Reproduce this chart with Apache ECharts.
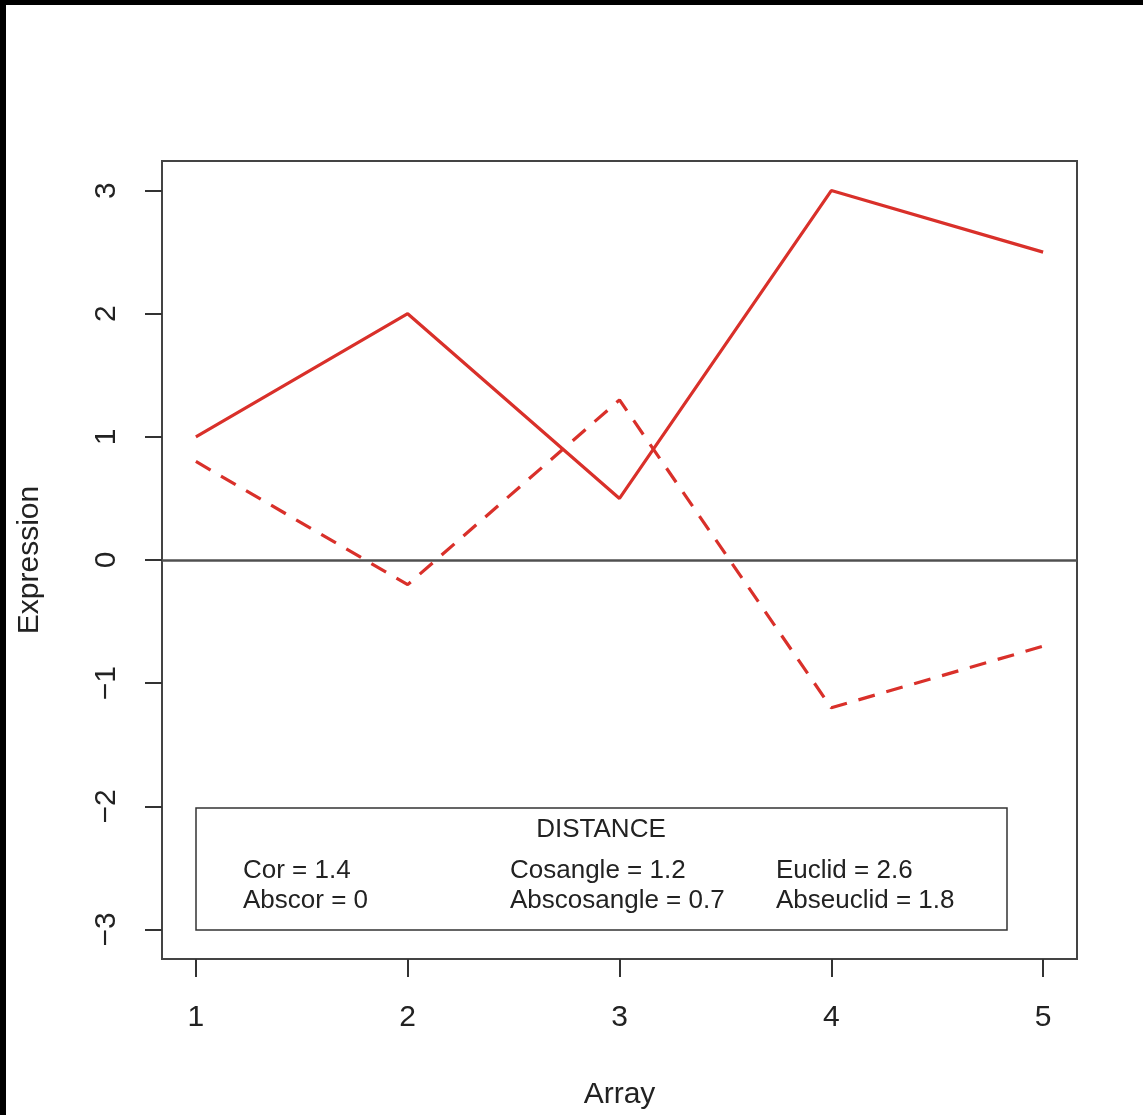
<!DOCTYPE html>
<html><head><meta charset="utf-8">
<script src="https://cdn.jsdelivr.net/npm/echarts@6/dist/echarts.min.js"></script>
<style>html,body{margin:0;padding:0;background:#000;}#c{position:absolute;left:6px;top:5px;width:1137px;height:1110px;background:#fff;}</style>
</head><body><div id="c"></div>
<script>
var arrays = [1, 2, 3, 4, 5];
var geneA = [1, 2, 0.5, 3, 2.5];
var geneB = [0.8, -0.2, 1.3, -1.2, -0.7];
var yTicks = [-3, -2, -1, 0, 1, 2, 3];
var legendTitle = 'DISTANCE';
var legendRow1 = ['Cor = 1.4', 'Cosangle = 1.2', 'Euclid = 2.6'];
var legendRow2 = ['Abscor = 0', 'Abscosangle = 0.7', 'Abseuclid = 1.8'];

var FONT = 'Liberation Sans, Arial, sans-serif';
var RED = '#d9302a';
var chart = echarts.init(document.getElementById('c'), null, {renderer: 'canvas'});
var ox = 6, oy = 5;
function pairs(ys) { return arrays.map(function (x, i) { return [x, ys[i]]; }); }
var legendTexts = [];
var cols = [243, 510, 776];
[legendRow1, legendRow2].forEach(function (row, r) {
  row.forEach(function (t, c) {
    legendTexts.push({type: 'text', x: cols[c] - ox, y: (r === 0 ? 871 : 901) - oy,
      style: {text: t, font: '26px ' + FONT, fill: '#222', textVerticalAlign: 'middle', textAlign: 'left'}, z: 20});
  });
});
chart.setOption({
  animation: false,
  backgroundColor: '#fff',
  grid: {left: 162 - ox, top: 161 - oy, right: 1143 - 1077, bottom: 1115 - 961, show: true,
    borderColor: '#444', borderWidth: 2, backgroundColor: 'transparent'},
  xAxis: {type: 'value', min: 0.84, max: 5.16,
    name: 'Array', nameLocation: 'middle', nameGap: 121,
    nameTextStyle: {fontFamily: FONT, fontSize: 30, color: '#222'},
    axisLine: {show: false, onZero: false},
    axisTick: {show: true, inside: false, length: 18, customValues: arrays, lineStyle: {color: '#333', width: 2}},
    axisLabel: {customValues: arrays, margin: 44, fontFamily: FONT, fontSize: 30, color: '#222'},
    splitLine: {show: false}},
  yAxis: {type: 'value', min: -3.24, max: 3.24,
    name: 'Expression', nameLocation: 'middle', nameGap: 117, nameRotate: 90,
    nameTextStyle: {fontFamily: FONT, fontSize: 30, color: '#222'},
    axisLine: {show: false, onZero: false},
    axisTick: {show: true, inside: false, length: 17, customValues: yTicks, lineStyle: {color: '#333', width: 2}},
    axisLabel: {customValues: yTicks, rotate: 90, margin: 40, fontFamily: FONT, fontSize: 30, color: '#222',
      formatter: function (v) { return String(v).replace('-', '\u2212'); }},
    splitLine: {show: false}},
  series: [
    {type: 'line', data: pairs(geneA), symbol: 'none', lineStyle: {color: RED, width: 3.2}, z: 5,
      markLine: {silent: true, symbol: 'none', label: {show: false},
        lineStyle: {color: '#505050', width: 2.5, type: 'solid'}, data: [{yAxis: 0}]}},
    {type: 'line', data: pairs(geneB), symbol: 'none', lineStyle: {color: RED, width: 3.2, type: [17, 12]}, z: 5}
  ],
  graphic: [
    {type: 'rect', shape: {x: 196 - ox, y: 808 - oy, width: 811, height: 122},
      style: {fill: '#fff', stroke: '#333', lineWidth: 1.5}, z: 10},
    {type: 'text', x: 601 - ox, y: 830 - oy, style: {text: legendTitle, font: '26px ' + FONT, fill: '#222',
      textAlign: 'center', textVerticalAlign: 'middle'}, z: 20}
  ].concat(legendTexts)
});
</script></body></html>
